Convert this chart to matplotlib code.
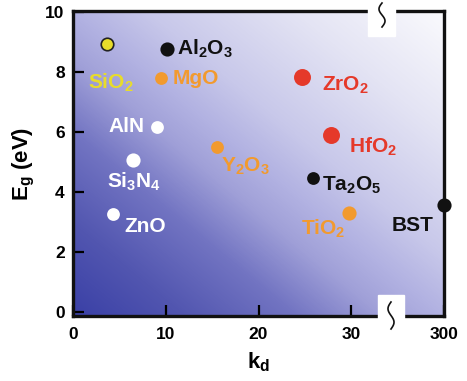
import numpy as np
import matplotlib.pyplot as plt
from matplotlib.colors import LinearSegmentedColormap
from matplotlib.patches import Rectangle

plt.rcParams['font.family'] = 'Liberation Sans'
plt.rcParams['font.weight'] = 'bold'
plt.rcParams['mathtext.fontset'] = 'custom'
plt.rcParams['mathtext.rm'] = 'Liberation Sans:bold'
plt.rcParams['mathtext.default'] = 'rm'

# dielectric data: k (300 for BST plotted at break position 40), band gap Eg (eV)
materials = ['SiO2', 'Al2O3', 'MgO', 'AlN', 'Si3N4', 'Y2O3', 'ZrO2', 'HfO2', 'Ta2O5', 'TiO2', 'BST', 'ZnO']
k_pos = [3.7, 10.1, 9.5, 9.1, 6.5, 15.5, 24.7, 27.8, 25.9, 29.8, 40.0, 4.3]
eg = [8.95, 8.77, 7.81, 6.18, 5.07, 5.52, 7.84, 5.91, 4.47, 3.31, 3.58, 3.28]
labels = [r'SiO$_2$', r'Al$_2$O$_3$', 'MgO', 'AlN', r'Si$_3$N$_4$', r'Y$_2$O$_3$',
          r'ZrO$_2$', r'HfO$_2$', r'Ta$_2$O$_5$', r'TiO$_2$', 'BST', 'ZnO']
colors = ['#e8dc2a', '#111111', '#f29a2e', '#ffffff', '#ffffff', '#f29a2e',
          '#e5392a', '#e5392a', '#111111', '#f29a2e', '#111111', '#ffffff']
label_xy = [(1.6, 7.67, 'left'), (11.2, 8.8, 'left'), (10.7, 7.8, 'left'), (7.7, 6.2, 'right'),
            (3.7, 4.35, 'left'), (16.0, 4.87, 'left'), (26.9, 7.58, 'left'), (29.8, 5.51, 'left'),
            (26.9, 4.24, 'left'), (24.6, 2.78, 'left'), (34.3, 2.91, 'left'), (5.5, 2.88, 'left')]
marker_sizes = [9, 9, 8, 8, 9, 8, 11, 11, 8, 9, 9, 8]

xticks = [0, 10, 20, 30, 40]
xticklabels = ['0', '10', '20', '30', '300']
yticks = [0, 2, 4, 6, 8, 10]

fig = plt.figure(figsize=(4.67, 3.81), dpi=100)
ax = fig.add_axes([73 / 467, 1 - 316 / 381, 371 / 467, 305 / 381])
xlim = (0, 40)
ylim = (-0.12, 10.05)
ax.set_xlim(*xlim)
ax.set_ylim(*ylim)

# diagonal blue-to-white background
stops = [(0.0, '#3a40a6'), (0.15, '#5256b0'), (0.3, '#7274c2'), (0.42, '#a0a0d8'),
         (0.5, '#b2b2e2'), (0.6, '#c8c8ea'), (0.8, '#e4e4f4'), (1.0, '#fafafd')]
cmap = LinearSegmentedColormap.from_list('bg', stops, N=256)
u = np.linspace(0, 1, 300)
uu, vv = np.meshgrid(u, u)
t = (uu + vv) / 2
ax.imshow(t, cmap=cmap, extent=[*xlim, *ylim], origin='lower', aspect='auto',
          interpolation='bilinear', zorder=0)

for i in range(len(materials)):
    edge = '#222222' if materials[i] == 'SiO2' else colors[i]
    ax.plot(k_pos[i], eg[i], 'o', color=colors[i], mec=edge, mew=1.2,
            ms=marker_sizes[i], clip_on=False, zorder=5)
    lx, ly, ha = label_xy[i]
    ax.text(lx, ly, labels[i], color=colors[i], fontsize=15, fontweight='bold',
            ha=ha, va='center', zorder=6)

ax.set_xticks(xticks)
ax.set_xticklabels(xticklabels)
ax.set_yticks(yticks)
ax.tick_params(direction='in', length=8, width=1.6, labelsize=12.5, pad=6)
ax.tick_params(axis='x', pad=8)
for lab in ax.get_xticklabels() + ax.get_yticklabels():
    lab.set_fontweight('bold')
for s in ax.spines.values():
    s.set_linewidth(2.4)
    s.set_color('#111111')

ax.set_xlabel(r'k$_d$', fontsize=16, fontweight='bold', labelpad=6)
ax.set_ylabel(r'E$_g$ (eV)', fontsize=16, fontweight='bold', labelpad=6)

# axis break marks (white gap + squiggle) on top and bottom spines
for x0, y0, w, h in [(368, 345, 27, 36), (378, 61, 26, 25)]:
    fig.patches.append(Rectangle((x0 / 467, y0 / 381), w / 467, h / 381,
                                 transform=fig.transFigure, color='white', zorder=10))
s = np.linspace(0, 1, 60)
for xc, yb, yt in [(382, 354, 378), (391, 52, 79)]:
    xs = xc + 3 * np.sin(2 * np.pi * s)
    ys = yb + (yt - yb) * s
    fig.add_artist(plt.Line2D(xs / 467, ys / 381, transform=fig.transFigure,
                              color='#111111', lw=1.2, zorder=11))

fig.savefig('out.png', dpi=100)
